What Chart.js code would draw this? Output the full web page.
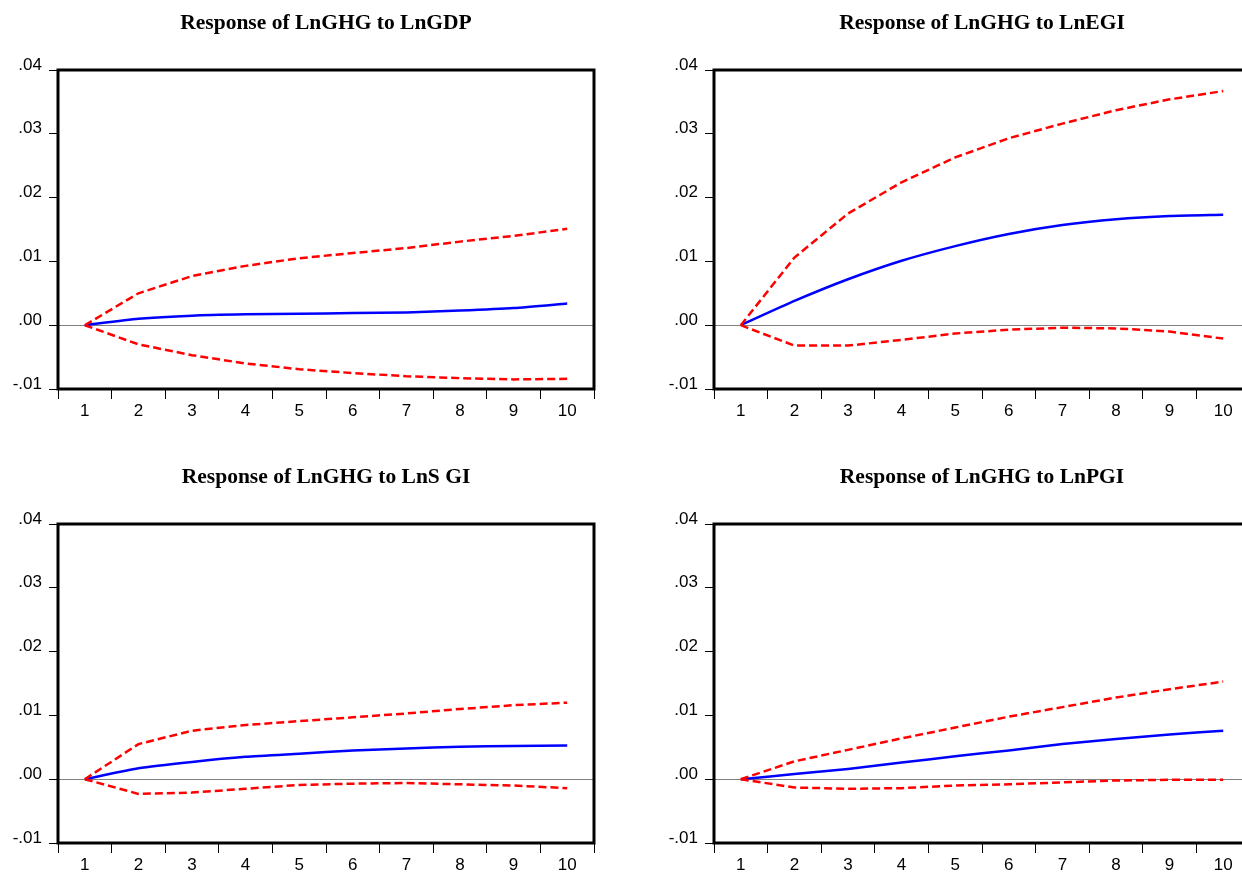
<!DOCTYPE html>
<html><head><meta charset="utf-8">
<script src="https://cdn.jsdelivr.net/npm/chart.js@4.4.1/dist/chart.umd.min.js"></script>
<style>
html,body{margin:0;padding:0;background:#fff;overflow:hidden;width:1242px;height:873px;}
.panel{position:absolute;width:652px;height:424px;}
</style></head><body>
<div class="panel" style="left:0;top:0"><canvas id="c1" width="652" height="424"></canvas></div>
<div class="panel" style="left:656px;top:0"><canvas id="c2" width="652" height="424"></canvas></div>
<div class="panel" style="left:0;top:454px"><canvas id="c3" width="652" height="424"></canvas></div>
<div class="panel" style="left:656px;top:454px"><canvas id="c4" width="652" height="424"></canvas></div>
<script>
const periods = ['1','2','3','4','5','6','7','8','9','10'];
const yTickLabels = ['-.01','.00','.01','.02','.03','.04'];

const gdpResponse = [0, 0.0010, 0.0015, 0.0017, 0.0018, 0.0019, 0.0020, 0.0023, 0.0027, 0.0034];
const gdpUpper    = [0, 0.0050, 0.0077, 0.0093, 0.0105, 0.0113, 0.0121, 0.0131, 0.0140, 0.0151];
const gdpLower    = [0, -0.0030, -0.0047, -0.0060, -0.0069, -0.0075, -0.0080, -0.0083, -0.0085, -0.0084];

const egiResponse = [0, 0.0038, 0.0072, 0.0101, 0.0124, 0.0143, 0.0157, 0.0166, 0.0171, 0.0173];
const egiUpper    = [0, 0.0106, 0.0175, 0.0224, 0.0263, 0.0293, 0.0316, 0.0337, 0.0354, 0.0367];
const egiLower    = [0, -0.0032, -0.0032, -0.0023, -0.0013, -0.0007, -0.0004, -0.0005, -0.0010, -0.0021];

const sgiResponse = [0, 0.0017, 0.0027, 0.0035, 0.0040, 0.0045, 0.0048, 0.0051, 0.0052, 0.0053];
const sgiUpper    = [0, 0.0055, 0.0076, 0.0085, 0.0091, 0.0097, 0.0103, 0.0110, 0.0116, 0.0120];
const sgiLower    = [0, -0.0023, -0.0021, -0.0015, -0.0009, -0.0007, -0.0006, -0.0008, -0.0010, -0.0014];

const pgiResponse = [0, 0.0008, 0.0016, 0.0026, 0.0036, 0.0045, 0.0055, 0.0063, 0.0070, 0.0076];
const pgiUpper    = [0, 0.0028, 0.0046, 0.0064, 0.0081, 0.0098, 0.0113, 0.0128, 0.0141, 0.0153];
const pgiLower    = [0, -0.0013, -0.0015, -0.0014, -0.0010, -0.0008, -0.0005, -0.0002, -0.0001, -0.0001];

const titles = ['Response of LnGHG to LnGDP','Response of LnGHG to LnEGI','Response of LnGHG to LnS GI','Response of LnGHG to LnPGI'];

const framePlugin = {
  id: 'frame',
  afterDatasetsDraw(chart) {
    const {ctx, chartArea: a} = chart;
    ctx.save();
    ctx.strokeStyle = '#000';
    ctx.lineWidth = 3;
    ctx.strokeRect(a.left, a.top, a.right - a.left, a.bottom - a.top);
    ctx.restore();
  }
};

const tickFont = {family: '"Liberation Sans", Arial, sans-serif', size: 17};

function makeChart(id, title, resp, upper, lower) {
  new Chart(document.getElementById(id), {
    type: 'line',
    data: {
      labels: periods,
      datasets: [
        {data: upper, borderColor: '#ff0000', borderWidth: 2.5, borderDash: [8, 4], pointRadius: 0, tension: 0, fill: false},
        {data: lower, borderColor: '#ff0000', borderWidth: 2.5, borderDash: [8, 4], pointRadius: 0, tension: 0, fill: false},
        {data: resp, borderColor: '#0000ff', borderWidth: 2.5, pointRadius: 0, tension: 0.2, fill: false}
      ]
    },
    options: {
      responsive: false,
      animation: false,
      events: [],
      layout: {padding: 0},
      plugins: {
        legend: {display: false},
        tooltip: {enabled: false},
        title: {
          display: true, text: title, color: '#000',
          font: {family: '"Liberation Serif", "Times New Roman", serif', size: 21.5, weight: 'bold', lineHeight: 1.2},
          padding: {top: 10.6, bottom: 33.6}
        }
      },
      scales: {
        x: {
          type: 'category', offset: true,
          afterFit(s) { s.height = 35; },
          grid: {offset: true, drawOnChartArea: false, drawTicks: true, tickLength: 10, tickColor: '#000', color: '#000', lineWidth: 1},
          border: {display: false},
          ticks: {color: '#000', font: tickFont, padding: 2, maxRotation: 0, autoSkip: false}
        },
        y: {
          type: 'linear', min: -0.01, max: 0.04,
          afterFit(s) { s.width = 58; },
          grid: {
            drawOnChartArea: true, drawTicks: true, tickLength: 9, tickColor: '#000', lineWidth: 1,
            color: (ctx) => (ctx.tick && Math.abs(ctx.tick.value) < 1e-9) ? '#808080' : 'rgba(0,0,0,0)'
          },
          border: {display: false},
          ticks: {stepSize: 0.01, color: '#000', font: tickFont, padding: 7, labelOffset: -5,
            callback: (v, i) => yTickLabels[i]}
        },
        yR: {
          position: 'right', display: true,
          afterFit(s) { s.width = 58; },
          grid: {display: false}, border: {display: false}, ticks: {display: false}
        }
      }
    },
    plugins: [framePlugin]
  });
}

makeChart('c1', titles[0], gdpResponse, gdpUpper, gdpLower);
makeChart('c2', titles[1], egiResponse, egiUpper, egiLower);
makeChart('c3', titles[2], sgiResponse, sgiUpper, sgiLower);
makeChart('c4', titles[3], pgiResponse, pgiUpper, pgiLower);
</script>
</body></html>
